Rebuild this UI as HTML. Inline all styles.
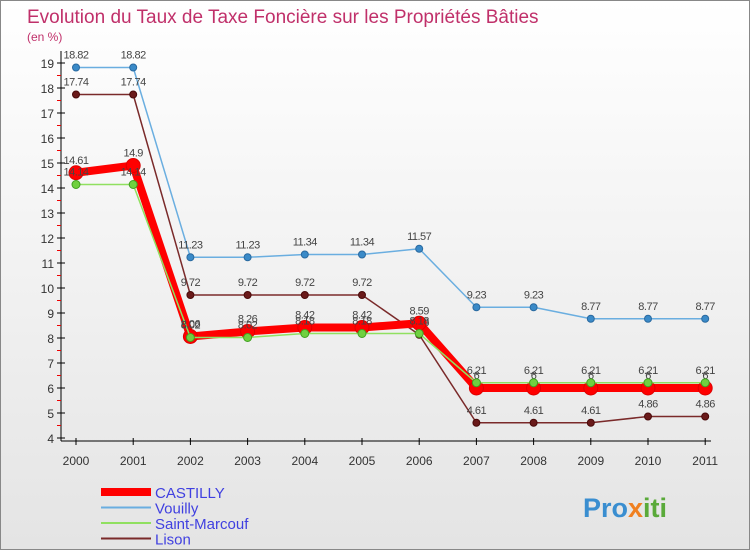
<!DOCTYPE html>
<html><head><meta charset="utf-8"><style>
body{margin:0;width:750px;height:550px;overflow:hidden;font-family:"Liberation Sans",sans-serif}
#wrap{position:relative;width:748px;height:548px;border:1px solid #888;background:linear-gradient(#fff,#e4e4e4)}
</style></head><body>
<div id="wrap">
<svg id="c" width="748" height="548" font-family="Liberation Sans, sans-serif">
<text x="26" y="22" font-size="19" fill="#c0306a">Evolution du Taux de Taxe Foncière sur les Propriétés Bâties</text>
<text x="26" y="40" font-size="12" fill="#c0306a">(en %)</text>
<g id="axes"></g><g id="series"></g><g id="legend"></g>
<text x="582" y="516" font-size="27" font-weight="bold" fill="#3a8ed0">Pro<tspan fill="#f08020">x</tspan><tspan fill="#5aaa3a">iti</tspan></text>
</svg></div>
<script>
const years=["2000","2001","2002","2003","2004","2005","2006","2007","2008","2009","2010","2011"];
const yTicks=[4,5,6,7,8,9,10,11,12,13,14,15,16,17,18,19];
const castilly=[14.61,14.9,8.06,8.26,8.42,8.42,8.59,6,6,6,6,6];
const vouilly=[18.82,18.82,11.23,11.23,11.34,11.34,11.57,9.23,9.23,8.77,8.77,8.77];
const saintMarcouf=[14.14,14.14,8.02,8.02,8.18,8.18,8.18,6.21,6.21,6.21,6.21,6.21];
const lison=[17.74,17.74,9.72,9.72,9.72,9.72,8.13,4.61,4.61,4.61,4.86,4.86];
const NS="http://www.w3.org/2000/svg";
const X=i=>75+i*57.2, Y=v=>437-(v-4)*25;
function mk(t,a,p){const e=document.createElementNS(NS,t);for(const k in a)e.setAttribute(k,a[k]);p.appendChild(e);return e;}
const ax=document.getElementById('axes');
let l=mk('line',{x1:60,y1:50,x2:60,y2:440,stroke:'#000'},ax);

l=mk('line',{x1:60,y1:440,x2:710,y2:440,stroke:'#000'},ax);

yTicks.forEach(v=>{mk('line',{x1:56,y1:Y(v),x2:64,y2:Y(v),stroke:'#000'},ax);
 if(v<19)mk('line',{x1:56,y1:Y(v+0.5),x2:60,y2:Y(v+0.5),stroke:'#e00'},ax);
 const t=mk('text',{x:53,y:Y(v)+5,'font-size':12,fill:'#333','text-anchor':'end'},ax);t.textContent=v;
 });
years.forEach((y,i)=>{mk('line',{x1:X(i),y1:437,x2:X(i),y2:444,stroke:'#000'},ax);
 const t=mk('text',{x:X(i),y:464,'font-size':12,fill:'#333','text-anchor':'middle'},ax);t.textContent=y;
 });
const S=document.getElementById('series');
function draw(name,data,color,w,r,dot,dotStroke){
 const g=mk('g',{},S);
 mk('polyline',{points:data.map((v,i)=>X(i)+','+Y(v)).join(' '),fill:'none',stroke:color,'stroke-width':w,'stroke-linejoin':'round'},g);
 data.forEach((v,i)=>{const c=mk('circle',{cx:X(i),cy:Y(v),r:r,fill:dot,stroke:dotStroke,'stroke-width':1},g);
  
  const t=mk('text',{x:X(i),y:Y(v)-9,'font-size':11,fill:'#444','text-anchor':'middle','letter-spacing':'-0.5'},g);t.textContent=String(v);
  });
}
draw('vouilly',vouilly,'#6aaee0',1.5,3.5,'#3a8ac8','#2a6aa0');
draw('lison',lison,'#7a2a2a',1.5,3.5,'#6a1a1a','#4a0a0a');
draw('castilly',castilly,'#f00',8,7,'#f00','#d00');
draw('saint-marcouf',saintMarcouf,'#90e060',1.5,4,'#70d040','#40a020');
const L=document.getElementById('legend');
[['CASTILLY','#f00',8],['Vouilly','#6aaee0',2],['Saint-Marcouf','#90e060',2],['Lison','#7a2a2a',2]].forEach((s,i)=>{
 const g=mk('g',{},L);
 const y=491+i*15.5;mk('line',{x1:100,y1:y,x2:150,y2:y,stroke:s[1],'stroke-width':s[2]},g);
 const t=mk('text',{x:154,y:y+6,'font-size':15,fill:'#4040e0'},g);t.textContent=s[0];});
</script></body></html>
